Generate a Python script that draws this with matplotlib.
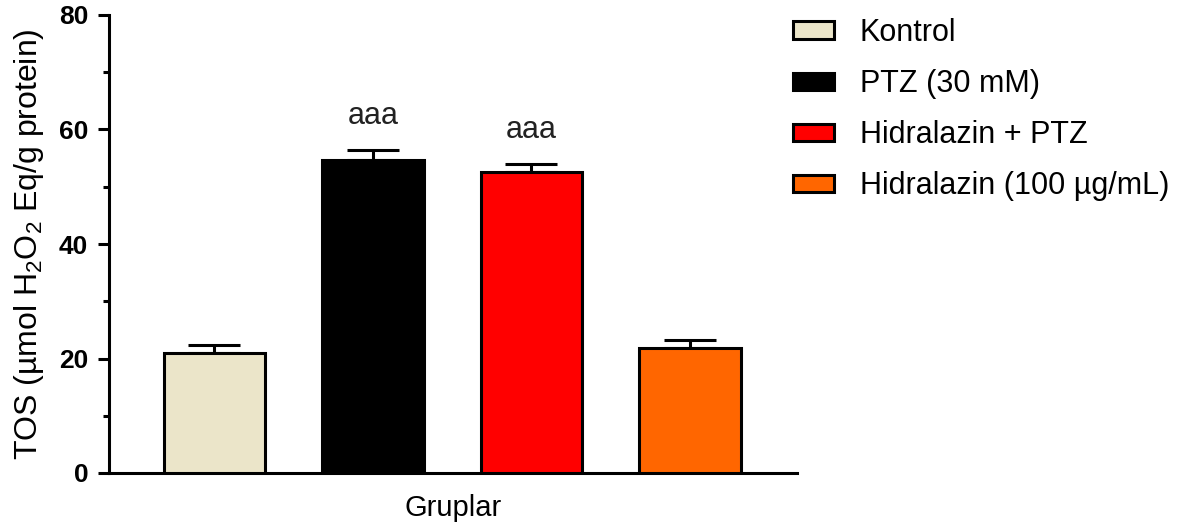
import matplotlib
matplotlib.use("Agg")
import matplotlib.pyplot as plt
from matplotlib.patches import Patch
from matplotlib.ticker import MultipleLocator

plt.rcParams['font.family'] = ['Liberation Sans', 'DejaVu Sans']
plt.rcParams['mathtext.fontset'] = 'custom'
plt.rcParams['mathtext.rm'] = 'Liberation Sans'
plt.rcParams['mathtext.it'] = 'Liberation Sans:italic'

groups = ["Kontrol", "PTZ (30 mM)", "Hidralazin + PTZ", "Hidralazin (100 \u00b5g/mL)"]
means = [21.0, 54.7, 52.5, 21.8]
sems = [1.4, 1.7, 1.4, 1.4]
colors = ["#ebe5c9", "#000000", "#ff0000", "#ff6600"]
signif = ["", "aaa", "aaa", ""]

fig = plt.figure(figsize=(11.89, 5.28), dpi=100)
ax = fig.add_axes([109/1189, 55/528, (797-109)/1189, (473-15)/528])

x = list(range(len(groups)))
ax.bar(x, means, width=0.64, color=colors, edgecolor="black", linewidth=2.2, zorder=3)
ax.errorbar(x, means, yerr=[[0]*len(sems), sems], fmt="none", ecolor="black",
            elinewidth=2.2, capsize=19, capthick=2.2, zorder=2)

for xi, m, s, t in zip(x, means, sems, signif):
    if t:
        ax.annotate(t, (xi, m + s), xytext=(0, 14), textcoords="offset points",
                    ha="center", va="bottom", fontsize=22, color="#222222")

ax.set_xlim(-0.665, 3.675)
ax.set_ylim(0, 80)
ax.yaxis.set_major_locator(MultipleLocator(20))
ax.yaxis.set_minor_locator(MultipleLocator(10))
ax.set_xticks([])
for s in ["top", "right"]:
    ax.spines[s].set_visible(False)
for s in ["left", "bottom"]:
    ax.spines[s].set_linewidth(2.2)
ax.tick_params(axis="y", which="major", length=8, width=2.2, labelsize=19, pad=7)
ax.tick_params(axis="y", which="minor", length=4.5, width=2.2)
for lab in ax.get_yticklabels():
    lab.set_fontweight("bold")

ax.set_ylabel("TOS (\u00b5mol H$_2$O$_2$ Eq/g protein)", fontsize=23, labelpad=9)
ax.set_xlabel("Gruplar", fontsize=21, labelpad=15)

handles = [Patch(facecolor=c, edgecolor="black", linewidth=2.2) for c in colors]
fig.legend(handles, groups, loc="upper left", bbox_to_anchor=(793/1189, 1 - 18/528),
           frameon=False, fontsize=22, handlelength=1.34, handleheight=0.5,
           labelspacing=0.69, handletextpad=0.85, borderaxespad=0, borderpad=0)

fig.savefig("out.png", dpi=100)
